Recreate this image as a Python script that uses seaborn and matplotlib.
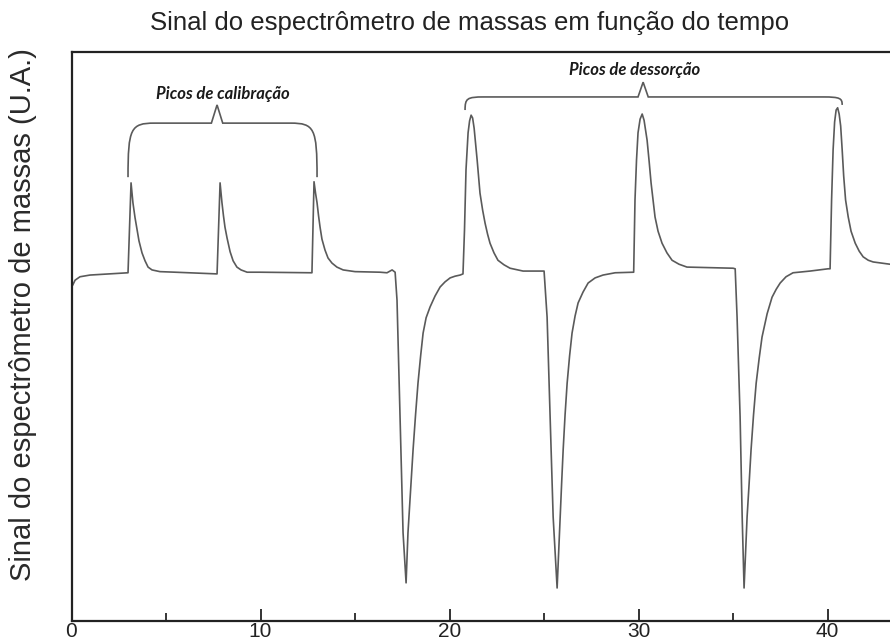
import numpy as np
import pandas as pd
import matplotlib
matplotlib.use("Agg")
import matplotlib.pyplot as plt
from matplotlib.path import Path
from matplotlib.patches import PathPatch
import seaborn as sns

# ---- data ----
time = [0.06, 0.19, 0.45, 0.98, 2.99,
        3.15, 3.20, 3.25, 3.36, 3.47, 3.57, 3.73, 3.89, 4.05, 4.26, 4.68, 5.48, 7.70,
        7.86, 7.91, 7.96, 8.04, 8.12, 8.23, 8.39, 8.55, 8.75, 8.97, 9.29, 9.97, 12.72,
        12.83, 12.91, 12.99, 13.07, 13.15, 13.25, 13.41, 13.57, 13.78, 14.04, 14.37, 15.00,
        16.32, 16.69, 16.96, 17.12,
        17.22, 17.38, 17.54, 17.70, 17.80, 17.94, 18.07, 18.20, 18.33, 18.47, 18.60, 18.76,
        18.97, 19.23, 19.50, 19.76, 20.03, 20.29, 20.56, 20.71,
        20.79, 20.87, 20.98, 21.06, 21.14, 21.22, 21.30, 21.46, 21.61, 21.75, 21.88, 22.01,
        22.14, 22.35, 22.56, 22.88, 23.20, 23.89, 25.00,
        25.16, 25.32, 25.48, 25.69, 25.85, 25.93, 26.01, 26.11, 26.22, 26.35, 26.48, 26.64,
        26.80, 27.06, 27.33, 27.70, 28.12, 28.76, 29.66, 29.74,
        29.81, 29.89, 29.97, 30.08, 30.19, 30.29, 30.45, 30.56, 30.66, 30.77, 30.87, 31.03,
        31.24, 31.50, 31.77, 32.14, 32.56, 35.00, 35.11,
        35.21, 35.37, 35.48, 35.58, 35.74, 35.85, 35.95, 36.08, 36.22, 36.38, 36.53, 36.80,
        37.06, 37.28, 37.49, 37.80, 38.17, 39.07, 40.03, 40.13,
        40.21, 40.29, 40.37, 40.45, 40.53, 40.61, 40.69, 40.77, 40.85, 40.95, 41.09, 41.24,
        41.46, 41.67, 41.88, 42.15, 42.41, 43.30]
signal = [5.90, 5.99, 6.05, 6.08, 6.12,
          7.70, 7.52, 7.35, 7.09, 6.87, 6.68, 6.47, 6.33, 6.22, 6.17, 6.14, 6.13, 6.10,
          7.70, 7.52, 7.35, 7.12, 6.92, 6.73, 6.49, 6.33, 6.22, 6.17, 6.13, 6.13, 6.12,
          7.72, 7.52, 7.35, 7.12, 6.92, 6.71, 6.52, 6.38, 6.29, 6.22, 6.17, 6.14,
          6.13, 6.12, 6.17, 6.13,
          5.64, 3.59, 1.55, 0.67, 1.55, 2.30, 3.01, 3.62, 4.18, 4.66, 5.06, 5.33,
          5.52, 5.71, 5.87, 5.96, 6.03, 6.06, 6.08, 6.10,
          6.87, 7.93, 8.58, 8.79, 8.89, 8.84, 8.66, 8.10, 7.52, 7.22, 6.99, 6.80,
          6.64, 6.47, 6.34, 6.26, 6.20, 6.15, 6.15,
          5.34, 3.59, 1.83, 0.58, 1.83, 2.43, 3.01, 3.62, 4.18, 4.66, 5.06, 5.36,
          5.59, 5.78, 5.94, 6.03, 6.08, 6.12, 6.13, 6.13,
          7.40, 8.10, 8.58, 8.82, 8.91, 8.80, 8.45, 8.07, 7.70, 7.38, 7.10, 6.85,
          6.64, 6.47, 6.34, 6.27, 6.22, 6.20, 6.19,
          5.34, 3.59, 1.83, 0.58, 1.83, 2.43, 3.01, 3.62, 4.18, 4.62, 4.99, 5.40,
          5.69, 5.83, 5.94, 6.05, 6.12, 6.15, 6.19, 6.19,
          7.40, 8.28, 8.77, 8.98, 9.02, 8.91, 8.70, 8.28, 7.82, 7.40, 7.10, 6.85,
          6.64, 6.50, 6.40, 6.34, 6.31, 6.27]

x_ticks_major = [0, 10, 20, 30, 40]
x_ticks_minor = [5, 15, 25, 35]

title = "Sinal do espectrômetro de massas em função do tempo"
ylabel = "Sinal do espectrômetro de massas (U.A.)"
label_cal = "Picos de calibração"
label_des = "Picos de dessorção"

df = pd.DataFrame({"tempo": time, "sinal": signal})

sns.set_theme(style="white")
plt.rcParams["font.family"] = ["Liberation Sans", "DejaVu Sans"]

fig = plt.figure(figsize=(8.9, 6.4), dpi=100)
ax = fig.add_axes([71.5 / 890, 19 / 640, 1 - 71.5 / 890, 569 / 640])

sns.lineplot(data=df, x="tempo", y="sinal", ax=ax, color="#5a5a5a",
             linewidth=1.2, estimator=None, sort=False)

ax.set_xlim(0, 43.3)
ax.set_ylim(0, 10)
ax.set_xlabel("")
ax.set_ylabel(ylabel, fontsize=21, color="#2a2a2a")
ax.yaxis.set_label_coords(-0.042, 0.538)
ax.set_yticks([])
ax.set_xticks(x_ticks_major)
ax.set_xticks(x_ticks_minor, minor=True)
ax.set_xticklabels([str(v) for v in x_ticks_major],
                   family=["Liberation Sans Narrow", "Liberation Sans"])
ax.tick_params(axis="x", which="major", direction="in", length=9, width=1.3,
               labelsize=15, pad=0.5, colors="#222222", bottom=True)
ax.tick_params(axis="x", which="minor", direction="in", length=5.5, width=1.3,
               bottom=True)

for side in ["left", "bottom", "top"]:
    ax.spines[side].set_visible(True)
    ax.spines[side].set_color("#222222")
    ax.spines[side].set_linewidth(1.6)
ax.spines["right"].set_visible(False)

fig.text(470 / 890, 1 - 23 / 640, title, ha="center", va="center",
         fontsize=18.5, color="#222222")


def brace(x0, x1, xm, y0, y1, ytop, ytip, dx, dy, hw):
    verts = [(x0, y0), (x0, ytop - dy * 0.1), (x0 + dx * 0.1, ytop), (x0 + dx, ytop),
             (xm - hw, ytop), (xm, ytip), (xm + hw, ytop),
             (x1 - dx, ytop), (x1 - dx * 0.1, ytop), (x1, ytop - dy * 0.1), (x1, y1)]
    codes = [Path.MOVETO, Path.CURVE4, Path.CURVE4, Path.CURVE4,
             Path.LINETO, Path.LINETO, Path.LINETO,
             Path.LINETO, Path.CURVE4, Path.CURVE4, Path.CURVE4]
    ax.add_patch(PathPatch(Path(verts, codes), fill=False, edgecolor="#5a5a5a",
                           linewidth=1.2, clip_on=False))


brace(2.99, 12.99, 7.70, 7.80, 7.80, 8.75, 9.07, 1.4, 0.9, 0.3)
brace(20.82, 40.77, 30.24, 8.98, 9.07, 9.21, 9.47, 1.0, 0.25, 0.27)

ax.text(8.0, 9.26, label_cal, ha="center", va="center", fontsize=12,
        fontweight="bold", fontstyle="italic", family=["Lato", "DejaVu Sans"],
        color="#1a1a1a")
ax.text(29.8, 9.68, label_des, ha="center", va="center", fontsize=12,
        fontweight="bold", fontstyle="italic", family=["Lato", "DejaVu Sans"],
        color="#1a1a1a")

fig.savefig("out.png", dpi=100)
